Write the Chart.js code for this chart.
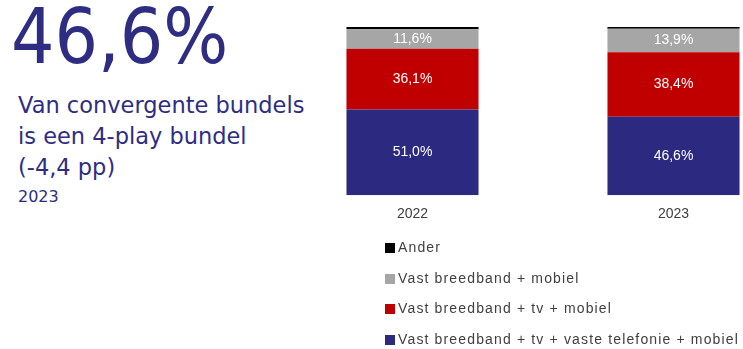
<!DOCTYPE html>
<html>
<head>
<meta charset="utf-8">
<script src="https://cdn.jsdelivr.net/npm/chart.js@4/dist/chart.umd.min.js"></script>
<style>
  html, body { margin:0; padding:0; width:743px; height:349px; overflow:hidden; background:#fff; }
  #wrap { position:relative; width:743px; height:349px; }
  .navy { color:#2E2D82; position:absolute; left:0; font-family:'DejaVu Sans',sans-serif; white-space:nowrap; }
  #big { left:11px; top:-8px; font-size:76px; line-height:90px; font-family:'DejaVu Sans Condensed','DejaVu Sans',sans-serif; font-stretch:condensed; }
  #sub { left:18px; top:90px; font-size:22.5px; line-height:31px; }
  #year { left:18px; top:187px; font-size:16px; line-height:20px; }
  #cv { position:absolute; left:282px; top:0; }
  #legend { position:absolute; left:385px; top:233px; font-family:'Liberation Sans',Arial,sans-serif; font-size:14px; color:#404040; letter-spacing:1.15px; }
  #legend div { height:30.5px; line-height:28px; white-space:nowrap; }
  #legend span.box { display:inline-block; width:10px; height:10px; margin-right:3px; vertical-align:-1px; }
</style>
</head>
<body>
<div id="wrap">
  <div id="big" class="navy">46,6%</div>
  <div id="sub" class="navy">Van convergente bundels<br>is een 4-play bundel<br>(-4,4 pp)</div>
  <div id="year" class="navy">2023</div>
  <canvas id="cv" width="522" height="234"></canvas>
  <div id="legend"></div>
</div>
<script>
const categories = ['2022', '2023'];
const seriesNames = [
  'Vast breedband + tv + vaste telefonie + mobiel',
  'Vast breedband + tv + mobiel',
  'Vast breedband + mobiel',
  'Ander'
];
const fourPlay = [51.0, 46.6];
const tvMobiel = [36.1, 38.4];
const breedbandMobiel = [11.6, 13.9];
const ander = [1.3, 1.1];
const seriesColors = ['#2B2A80', '#C00000', '#A6A6A6', '#000000'];
const showLabels = [true, true, true, false];

const seriesValues = [fourPlay, tvMobiel, breedbandMobiel, ander];

const fmt = v => v.toFixed(1).replace('.', ',') + '%';

const labelPlugin = {
  id: 'barLabels',
  afterDatasetsDraw(chart) {
    const ctx = chart.ctx;
    ctx.save();
    ctx.font = '14px "Liberation Sans", Arial, sans-serif';
    ctx.fillStyle = '#ffffff';
    ctx.textAlign = 'center';
    ctx.textBaseline = 'middle';
    chart.data.datasets.forEach((ds, i) => {
      if (!showLabels[i]) return;
      const meta = chart.getDatasetMeta(i);
      meta.data.forEach((el, j) => {
        const p = el.getProps(['x', 'y', 'base'], true);
        ctx.fillText(fmt(ds.data[j]), p.x, (p.y + p.base) / 2);
      });
    });
    ctx.restore();
  }
};

const chart = new Chart(document.getElementById('cv'), {
  type: 'bar',
  data: {
    labels: categories,
    datasets: seriesValues.map((vals, i) => ({
      label: seriesNames[i],
      data: vals,
      backgroundColor: seriesColors[i],
      borderWidth: 0,
      barPercentage: 0.506,
      categoryPercentage: 1.0
    }))
  },
  options: {
    responsive: false,
    animation: false,
    layout: { padding: { top: 27, bottom: 0, left: 0, right: 0 } },
    plugins: { legend: { display: false }, tooltip: { enabled: false } },
    scales: {
      x: {
        stacked: true,
        grid: { display: false, drawTicks: false },
        border: { display: false },
        ticks: { color: '#404040', font: { size: 14, family: '"Liberation Sans", Arial, sans-serif' }, padding: 11 }
      },
      y: {
        stacked: true,
        display: false,
        min: 0,
        max: 100
      }
    }
  },
  plugins: [labelPlugin]
});

const items = Chart.defaults.plugins.legend.labels.generateLabels(chart).slice().reverse();
const lg = document.getElementById('legend');
items.forEach(it => {
  const d = document.createElement('div');
  const b = document.createElement('span');
  b.className = 'box';
  b.style.background = it.fillStyle;
  d.appendChild(b);
  d.appendChild(document.createTextNode(it.text));
  lg.appendChild(d);
});
</script>
</body>
</html>
